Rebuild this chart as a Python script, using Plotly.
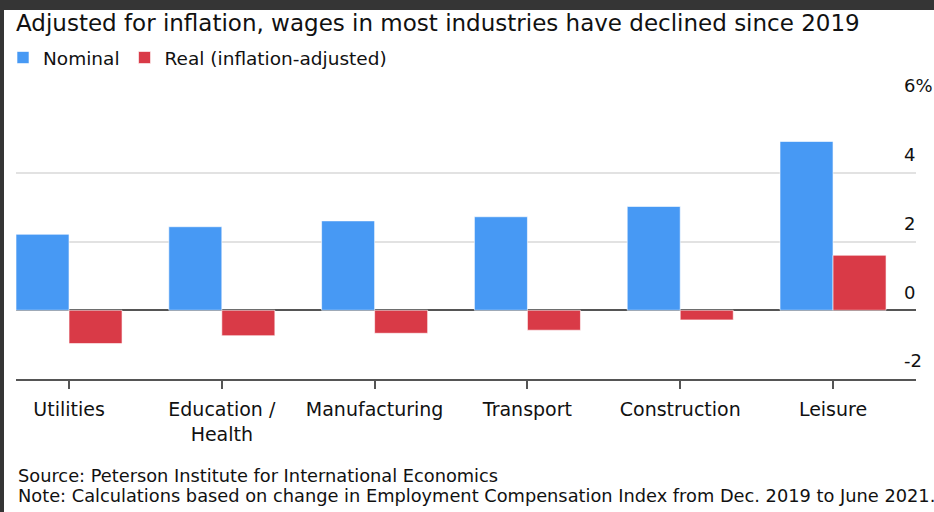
import plotly.graph_objects as go

categories = ["Utilities", "Education /<br>Health", "Manufacturing", "Transport", "Construction", "Leisure"]
nominal = [2.21, 2.43, 2.6, 2.72, 3.02, 4.91]
real = [-0.97, -0.74, -0.67, -0.58, -0.28, 1.6]
y_tickvals = [-2, 0, 2, 4, 6]
y_ticktext = ["-2", "0", "2", "4", "6%"]

W, H = 934, 512
L, R, T, B = 16, 916, 104, 379
FONT = "DejaVu Sans, Liberation Sans, Arial, sans-serif"

def px_x(px):
    return (px - L) / (R - L)

def px_y(py):
    return (B - py) / (B - T)

fig = go.Figure()
fig.add_trace(go.Bar(x=categories, y=nominal, name="Nominal",
                     marker=dict(color="#4799f4", line=dict(color="rgba(255,255,255,0.6)", width=1))))
fig.add_trace(go.Bar(x=categories, y=real, name="Real (inflation-adjusted)",
                     marker=dict(color="#d93a47", line=dict(color="rgba(255,255,255,0.6)", width=1))))

fig.update_layout(
    width=W, height=H,
    margin=dict(l=L, r=W - R, t=T, b=H - B, pad=0, autoexpand=False),
    paper_bgcolor="white", plot_bgcolor="white",
    barmode="group", bargap=0.306, bargroupgap=0,
    font=dict(family=FONT, color="#111111"),
    title=dict(text="Adjusted for inflation, wages in most industries have declined since 2019",
               xref="container", yref="container", x=16 / W, xanchor="left",
               y=1 - 23 / H, yanchor="middle", font=dict(size=23, color="#111111"), pad=dict(l=0, r=0, t=0, b=0)),
    legend=dict(orientation="h", x=px_x(3), xanchor="left", y=px_y(58), yanchor="middle",
                font=dict(size=18.5, color="#111111"), bgcolor="rgba(0,0,0,0)", borderwidth=0,
                itemclick=False),
    xaxis=dict(range=[-0.347, 5.543], showgrid=False, showline=True, linecolor="#555555", linewidth=2,
               ticks="outside", ticklen=8, tickwidth=1.5, tickcolor="#555555",
               tickfont=dict(size=19, color="#111111"), ticklabelstandoff=4, zeroline=False),
    yaxis=dict(range=[-2, 6], side="right", tickvals=y_tickvals, ticktext=y_ticktext,
               showgrid=True, gridcolor="#e2e2e2", gridwidth=2,
               zeroline=True, zerolinecolor="#555555", zerolinewidth=2,
               showline=False, ticks="", ticklabelposition="outside",
               ticklabelstandoff=-13, ticklabelshift=-18,
               tickfont=dict(size=18, color="#111111")),
    annotations=[
        dict(text="Source: Peterson Institute for International Economics", xref="paper", yref="paper",
             x=px_x(16), y=px_y(475.5), xanchor="left", yanchor="middle", showarrow=False,
             font=dict(size=17.8, color="#111111")),
        dict(text="Note: Calculations based on change in Employment Compensation Index from Dec. 2019 to June 2021.",
             xref="paper", yref="paper", x=px_x(16), y=px_y(495.5), xanchor="left", yanchor="middle",
             showarrow=False, font=dict(size=17.8, color="#111111")),
    ],
    shapes=[
        dict(type="rect", xref="paper", yref="paper", x0=px_x(-20), x1=px_x(960), y0=px_y(10), y1=px_y(-20),
             fillcolor="#353535", line=dict(width=0), layer="above"),
        dict(type="rect", xref="paper", yref="paper", x0=px_x(-20), x1=px_x(4), y0=px_y(530), y1=px_y(-20),
             fillcolor="#353535", line=dict(width=0), layer="above"),
    ],
)

fig.write_html("out.html", config={"displayModeBar": False})
